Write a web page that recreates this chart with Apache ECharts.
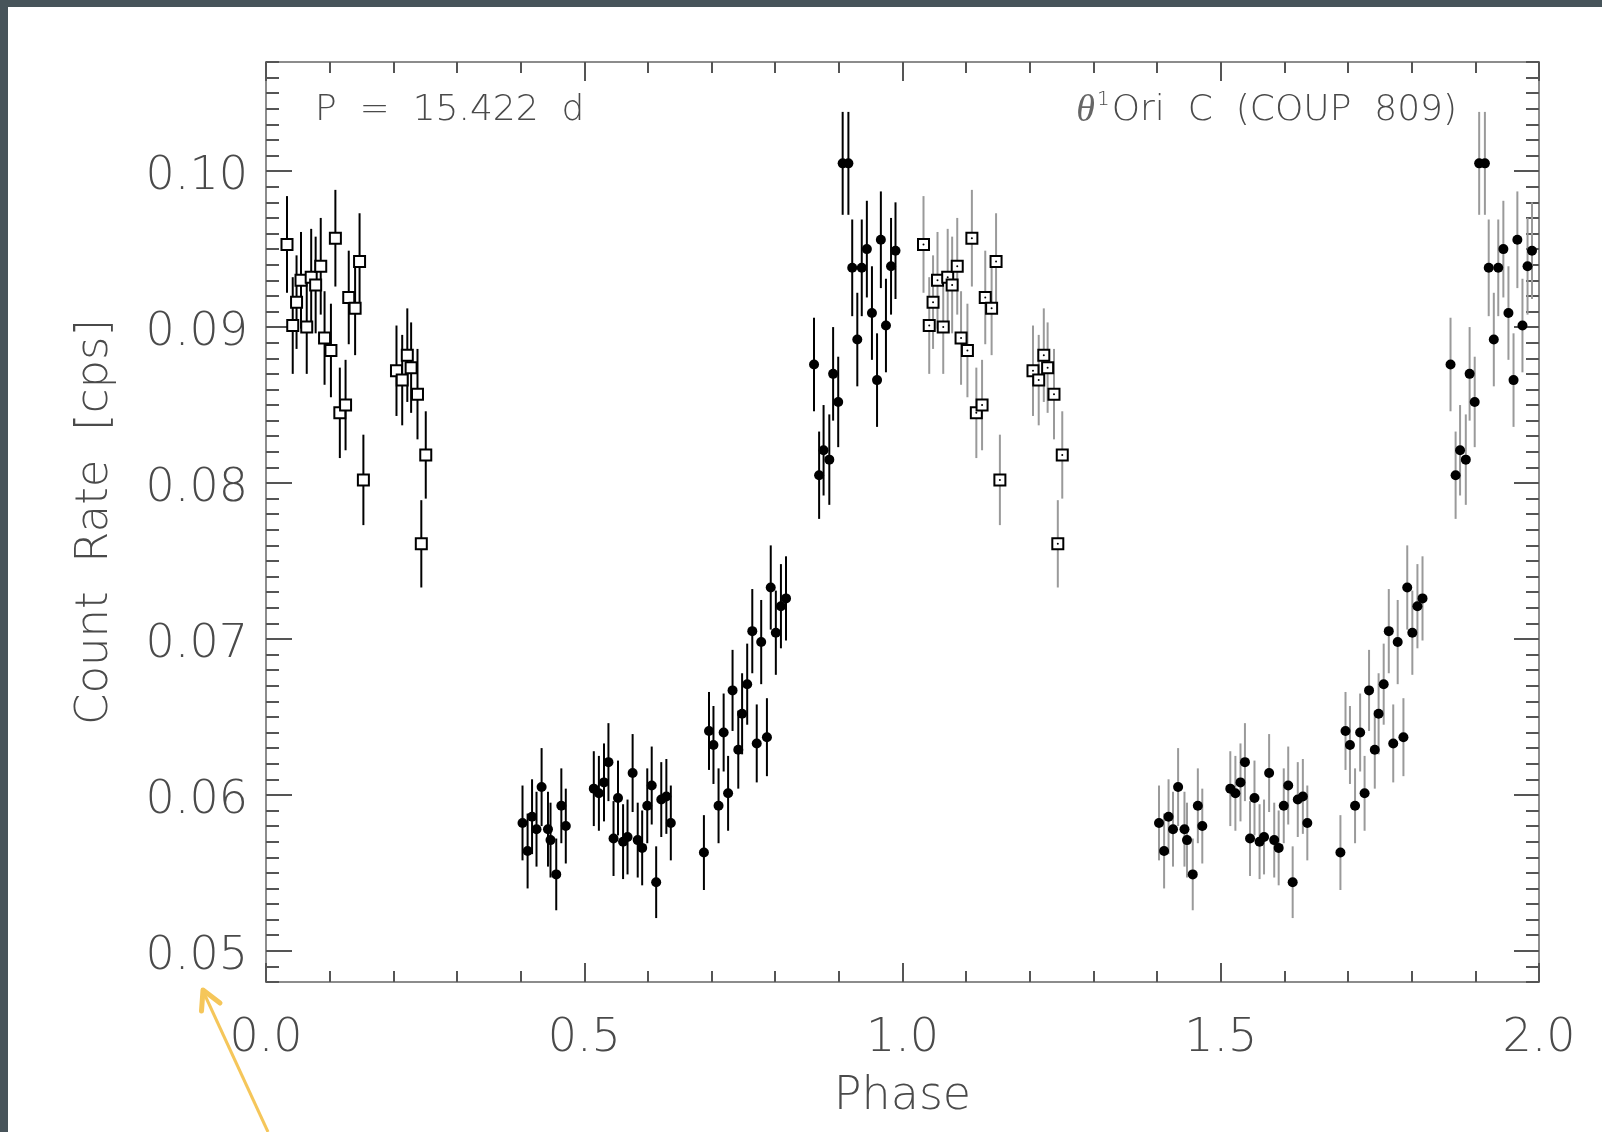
<!DOCTYPE html>
<html>
<head>
<meta charset="utf-8">
<script src="https://cdn.jsdelivr.net/npm/echarts@6/dist/echarts.min.js"></script>
<style>
  html, body { margin: 0; padding: 0; background: #fff; }
  #chart { width: 1602px; height: 1132px; }
</style>
</head>
<body>
<div id="chart"></div>
<script>
// phase-folded light curve, first cycle (dots) and second cycle (squares)
var dotPhase = [0.403, 0.411, 0.418, 0.425, 0.433, 0.443, 0.447, 0.456, 0.464, 0.471,
  0.515, 0.523, 0.531, 0.538, 0.546, 0.553, 0.561, 0.568, 0.576, 0.584, 0.591, 0.599, 0.606, 0.613, 0.621, 0.629, 0.636,
  0.688, 0.696, 0.703, 0.711, 0.719, 0.726, 0.733, 0.742, 0.748, 0.756, 0.764, 0.771, 0.778, 0.787, 0.793, 0.801, 0.809, 0.817,
  0.861, 0.869, 0.876, 0.885, 0.891, 0.899, 0.906, 0.915, 0.921, 0.929, 0.936, 0.944, 0.952, 0.960, 0.966, 0.974, 0.982, 0.989];
var dotRate = [0.0582, 0.0564, 0.0586, 0.0578, 0.0605, 0.0578, 0.0571, 0.0549, 0.0593, 0.0580,
  0.0604, 0.0601, 0.0608, 0.0621, 0.0572, 0.0598, 0.0570, 0.0573, 0.0614, 0.0571, 0.0566, 0.0593, 0.0606, 0.0544, 0.0597, 0.0599, 0.0582,
  0.0563, 0.0641, 0.0632, 0.0593, 0.0640, 0.0601, 0.0667, 0.0629, 0.0652, 0.0671, 0.0705, 0.0633, 0.0698, 0.0637, 0.0733, 0.0704, 0.0721, 0.0726,
  0.0876, 0.0805, 0.0821, 0.0815, 0.0870, 0.0852, 0.1005, 0.1005, 0.0938, 0.0892, 0.0938, 0.0950, 0.0909, 0.0866, 0.0956, 0.0901, 0.0939, 0.0949];
var dotErr = [0.0024, 0.0024, 0.0024, 0.0024, 0.0025, 0.0024, 0.0024, 0.0023, 0.0024, 0.0024,
  0.0024, 0.0024, 0.0025, 0.0025, 0.0024, 0.0024, 0.0024, 0.0024, 0.0025, 0.0024, 0.0024, 0.0024, 0.0025, 0.0023, 0.0024, 0.0024, 0.0024,
  0.0024, 0.0025, 0.0025, 0.0024, 0.0025, 0.0024, 0.0026, 0.0025, 0.0026, 0.0026, 0.0027, 0.0025, 0.0027, 0.0025, 0.0027, 0.0027, 0.0027, 0.0027,
  0.0030, 0.0028, 0.0029, 0.0029, 0.0030, 0.0029, 0.0033, 0.0033, 0.0031, 0.0030, 0.0031, 0.0031, 0.0030, 0.0030, 0.0031, 0.0030, 0.0031, 0.0031];

var sqPhase = [0.033, 0.042, 0.048, 0.055, 0.064, 0.071, 0.078, 0.086, 0.092, 0.102, 0.109, 0.116,
  0.125, 0.130, 0.140, 0.147, 0.153, 0.205, 0.214, 0.222, 0.228, 0.238, 0.251, 0.244];
var sqRate = [0.0953, 0.0901, 0.0916, 0.0930, 0.0900, 0.0932, 0.0927, 0.0939, 0.0893, 0.0885, 0.0957, 0.0845,
  0.0850, 0.0919, 0.0912, 0.0942, 0.0802, 0.0872, 0.0866, 0.0882, 0.0874, 0.0857, 0.0818, 0.0761];
var sqErr = [0.0031, 0.0031, 0.0030, 0.0031, 0.0030, 0.0031, 0.0031, 0.0031, 0.0030, 0.0030, 0.0031, 0.0029,
  0.0029, 0.0030, 0.0030, 0.0031, 0.0029, 0.0029, 0.0029, 0.0030, 0.0029, 0.0029, 0.0028, 0.0028];

var xTicks = [0, 0.5, 1.0, 1.5, 2.0];
var yTicks = [0.05, 0.06, 0.07, 0.08, 0.09, 0.10];
var yMin = 0.048, yMax = 0.107;

var yMinor = [];
for (var k = 48; k <= 107; k++) {
  if (k % 10 !== 0) yMinor.push(k / 1000);
}

function rows(ph, rate, err, shift) {
  return ph.map(function (p, i) { return [p + shift, rate[i], err[i]]; });
}

var font = "'DejaVu Sans', sans-serif";
var textGray = '#4a4a4a';
var frameGray = '#8c8c8c';
var tickGray = '#555';

function errBars(data, color) {
  return {
    type: 'custom',
    data: data,
    encode: { x: 0, y: 1 },
    z: 2,
    renderItem: function (params, api) {
      var x = api.value(0), y = api.value(1), e = api.value(2);
      var a = api.coord([x, y + e]);
      var b = api.coord([x, y - e]);
      return {
        type: 'line',
        shape: { x1: a[0], y1: a[1], x2: b[0], y2: b[1] },
        style: { stroke: color, lineWidth: 2 }
      };
    }
  };
}

function points(data, symbol, size, fill, border) {
  return {
    type: 'scatter',
    data: data,
    symbol: symbol,
    symbolSize: size,
    z: 3,
    itemStyle: { color: fill, borderColor: border || fill, borderWidth: border ? 2 : 0, opacity: 1 }
  };
}

var dots1 = rows(dotPhase, dotRate, dotErr, 0);
var dots2 = rows(dotPhase, dotRate, dotErr, 1);
var sq1 = rows(sqPhase, sqRate, sqErr, 0);
var sq2 = rows(sqPhase, sqRate, sqErr, 1);

function xAxisBase(pos, labels) {
  return {
    type: 'value', position: pos, min: 0, max: 2, interval: 0.5,
    axisLine: { show: true, onZero: false, lineStyle: { color: frameGray, width: 2 } },
    axisTick: { show: true, inside: true, length: 19, lineStyle: { color: tickGray, width: 2 } },
    minorTick: { show: true, splitNumber: 5, length: 11, lineStyle: { color: tickGray, width: 2 } },
    splitLine: { show: false },
    axisLabel: labels ? {
      show: true, margin: 34, color: textGray, fontFamily: font, fontWeight: 200, fontSize: 46,
      formatter: function (v) { return v.toFixed(1); }
    } : { show: false }
  };
}

function yAxisBase(pos, ticks, len, labels, line) {
  return {
    type: 'value', position: pos, min: yMin, max: yMax,
    axisLine: { show: line, onZero: false, lineStyle: { color: frameGray, width: 2 } },
    axisTick: { show: true, inside: true, length: len, customValues: ticks, lineStyle: { color: tickGray, width: 2 } },
    splitLine: { show: false },
    axisLabel: labels ? {
      show: true, margin: 18, customValues: ticks,
      formatter: function (v) { return '{v|' + v.toFixed(2) + '}'; },
      rich: {
        v: { color: textGray, fontFamily: font, fontWeight: 200, fontSize: 46, padding: [12, 0, 0, 0] }
      }
    } : { show: false }
  };
}

var myChart = echarts.init(document.getElementById('chart'));

var xBottom = xAxisBase('bottom', true);
xBottom.name = 'Phase';
xBottom.nameLocation = 'middle';
xBottom.nameGap = 92;
xBottom.nameTextStyle = { color: textGray, fontFamily: font, fontWeight: 200, fontSize: 46 };

var yLeft = yAxisBase('left', yTicks, 26, true, true);
yLeft.name = 'Count  Rate  [cps]';
yLeft.nameLocation = 'middle';
yLeft.nameRotate = 90;
yLeft.nameGap = 148;
yLeft.nameTextStyle = { color: textGray, fontFamily: font, fontWeight: 200, fontSize: 45 };

var option = {
  backgroundColor: '#fff',
  animation: false,
  grid: { left: 266, top: 62, width: 1273, height: 920 },
  xAxis: [xBottom, xAxisBase('top', false)],
  yAxis: [
    yLeft,
    yAxisBase('left', yMinor, 13, false, false),
    yAxisBase('right', yTicks, 25, false, true),
    yAxisBase('right', yMinor, 13, false, false)
  ],
  graphic: [
    { type: 'rect', shape: { x: 0, y: 0, width: 1602, height: 7 }, style: { fill: '#47545a' }, z: 10 },
    { type: 'rect', shape: { x: 0, y: 0, width: 8, height: 1132 }, style: { fill: '#47545a' }, z: 10 },
    {
      type: 'text', x: 315, y: 111, z: 10,
      style: { text: 'P  =  15.422  d', fill: textGray, font: '200 36px ' + font, verticalAlign: 'middle', align: 'left' }
    },
    {
      type: 'text', x: 1457, y: 111, z: 10,
      style: {
        text: '{i|θ}{s|1}Ori  C  (COUP  809)',
        fill: textGray, font: '200 36px ' + font, verticalAlign: 'middle', align: 'right',
        rich: {
          i: { fontStyle: 'italic', fontSize: 38, fontFamily: "'Liberation Serif', serif", fill: '#666' },
          s: { fontSize: 20, fontFamily: font, fontWeight: 200, fill: textGray, padding: [0, 2, 22, 2] }
        }
      }
    },
    { type: 'polyline', z: 10, shape: { points: [[268, 1132], [203, 991]] }, style: { stroke: '#f5c65a', lineWidth: 3, fill: null } },
    { type: 'polyline', z: 10, shape: { points: [[201.5, 1011], [203, 990], [220, 1003]] }, style: { stroke: '#f5c65a', lineWidth: 5, lineCap: 'round', lineJoin: 'round', fill: null } }
  ],
  series: [
    errBars(dots1, '#000'),
    errBars(sq1, '#000'),
    errBars(dots2, '#9a9a9a'),
    errBars(sq2, '#9a9a9a'),
    points(dots1, 'circle', 10, '#000'),
    points(dots2, 'circle', 10, '#000'),
    points(sq1, 'rect', 11, '#fff', '#000'),
    points(sq2, 'rect', 11, '#fff', '#000'),
    points(sq2, 'circle', 2, '#000')
  ]
};

myChart.setOption(option);

window.addEventListener('resize', function () {
  myChart.resize();
});
</script>
</body>
</html>
